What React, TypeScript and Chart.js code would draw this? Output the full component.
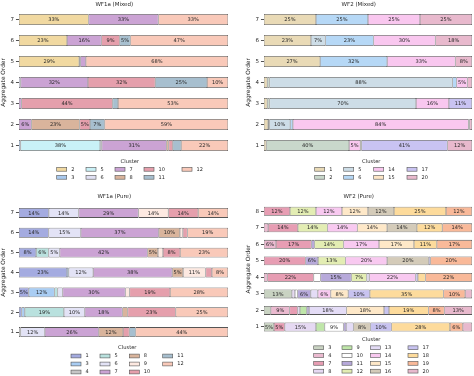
import React, { useEffect, useRef } from 'react';
import { Chart, registerables } from 'chart.js';

Chart.register(...registerables);

const FONT = "'DejaVu Sans', 'Liberation Sans', sans-serif";
const TEXT = '#262626';
const EDGE = '#555555';

// ---------------- data ----------------
// WF1a (Mixed)
const WF1A_MIXED_CLUSTERS = [2, 3, 5, 6, 7, 8, 10, 11, 12];
const WF1A_MIXED_ORDERS = ['1', '2', '3', '4', '5', '6', '7'];
const WF1A_MIXED_SHARES = [
  [0, 0.8, 38, 0.8, 31, 1, 2, 4, 22.4],
  [0, 0, 0, 0, 6, 23, 5, 7, 59],
  [0, 0, 0, 0, 1.2, 0, 43.6, 2.6, 52.6],
  [0, 0, 0, 0.8, 32.2, 0, 32.2, 24.8, 10],
  [28.8, 0, 0, 0.6, 2.6, 0, 0, 0, 68],
  [23, 0, 0, 0, 16.4, 0, 8.8, 5.1, 46.7],
  [33.33, 0, 0, 0, 33.33, 0, 0, 0, 33.34],
];
const WF1A_MIXED_COLORS = ['#f1d9a1', '#a9c9ee', '#c9f1f7', '#e1e1f4', '#cba3d4', '#d9b49c', '#e59fac', '#a7bfcf', '#f9c9b9'];

// WF2 (Mixed)
const WF2_MIXED_CLUSTERS = [1, 2, 5, 6, 14, 15, 17, 20];
const WF2_MIXED_ORDERS = ['1', '2', '3', '4', '5', '6', '7'];
const WF2_MIXED_SHARES = [
  [1.1, 39.8, 0, 0, 5.4, 0.6, 41.3, 11.8],
  [2, 0.6, 10, 1.3, 84.4, 0, 0.5, 1.2],
  [1.6, 1.1, 70.4, 0, 15.8, 0, 11.1, 0],
  [1.6, 1.1, 87.9, 2, 5.2, 0, 0, 2.2],
  [27, 0, 0, 32.2, 32.8, 0, 0, 8],
  [22.6, 0, 6.9, 23.2, 29.7, 0, 0, 17.6],
  [25, 0, 0, 25, 25, 0, 0, 25],
];
const WF2_MIXED_COLORS = ['#e9dab6', '#c9d8cb', '#cddde7', '#b6d8f6', '#f9c7ef', '#fde6c6', '#c9c3f2', '#e8b9cd'];

// WF1a (Pure)
const WF1A_PURE_CLUSTERS = [1, 3, 4, 5, 6, 7, 8, 9, 10, 11, 12];
const WF1A_PURE_ORDERS = ['1', '2', '3', '4', '5', '6', '7'];
const WF1A_PURE_SHARES = [
  [0, 0, 0.8, 0, 11.6, 25.8, 11.6, 0, 3, 3, 44.2],
  [1.3, 1.5, 0, 18.7, 10, 18, 2.5, 0, 23, 0, 25],
  [4.7, 12.3, 0, 1.5, 2.4, 30, 0, 2, 19.4, 0, 27.7],
  [23, 0.8, 0, 0, 11.7, 37.8, 5.2, 10.8, 3, 0, 7.7],
  [8.2, 0, 0, 6, 5.3, 42, 5, 2.4, 8.2, 0, 22.9],
  [14.2, 0, 0, 0, 15.4, 37.3, 10.1, 1.4, 2.2, 0, 19.4],
  [14.29, 0, 0, 0, 14.29, 28.57, 0, 14.29, 14.28, 0, 14.28],
];
const WF1A_PURE_COLORS = ['#a4abe0', '#a9cdf3', '#c6c6c6', '#b9e1de', '#e3e3f6', '#cba3d4', '#d9b49c', '#fde9e1', '#e59fac', '#a7bfcf', '#f9c9b9'];

// WF2 (Pure)
const WF2_PURE_CLUSTERS = [3, 4, 7, 8, 9, 10, 11, 12, 13, 14, 15, 16, 17, 18, 19, 20];
const WF2_PURE_ORDERS = ['1', '2', '3', '4', '5', '6', '7', '8'];
const WF2_PURE_SHARES = [
  [4.8, 0, 5.2, 15, 4.2, 9, 1.3, 0, 3.5, 0, 0, 8.2, 10.1, 28.1, 6.2, 4.4],
  [3.3, 9, 3.9, 1.1, 3.3, 0, 1.1, 0, 18, 0, 18, 0, 2.4, 19, 7.6, 13.3],
  [13.4, 0, 0, 1.5, 0, 1.2, 6.4, 0, 3.4, 6.2, 8.4, 0, 10.4, 35.4, 10.4, 3.3],
  [0, 1.6, 22.3, 0, 0, 3.3, 14.8, 7.4, 1.2, 22.3, 0, 0, 1.1, 3.6, 22.4, 0],
  [0, 0, 20, 0, 0, 0, 6, 13.2, 0, 20, 0, 20, 0.8, 0, 20, 0],
  [0, 5.8, 17, 0, 0, 0, 1.5, 14, 0, 17, 16.8, 0, 0, 11, 16.9, 0],
  [0, 2, 14.3, 0, 0, 0, 0, 14.3, 0, 14.3, 14.3, 14.3, 0, 12.2, 14.3, 0],
  [0, 0, 12.5, 0, 0, 0, 0, 12.5, 0, 12.5, 12.5, 12.5, 0, 25, 12.5, 0],
];
const WF2_PURE_COLORS = ['#c9d3c2', '#ebbad0', '#e79db3', '#e6d9f3', '#bfe6a9', '#ffffff', '#b7a9da', '#e3edb3', '#e4dcf6', '#f8c9f0', '#fee8c8', '#d4cbb9', '#c8c3f0', '#fddb9c', '#f9b999', '#e8b9cd'];

// ---------------- helpers ----------------
function pyRound(v: number): number {
  const f = Math.floor(v);
  const d = v - f;
  if (Math.abs(d - 0.5) < 1e-9) return f % 2 === 0 ? f : f + 1;
  return Math.round(v);
}

const segmentLabels = {
  id: 'segmentLabels',
  afterDatasetsDraw(chart: any) {
    const ctx = chart.ctx;
    ctx.save();
    ctx.font = `5.1px ${FONT}`;
    ctx.fillStyle = TEXT;
    ctx.textAlign = 'center';
    ctx.textBaseline = 'middle';
    chart.data.datasets.forEach((ds: any, di: number) => {
      const meta = chart.getDatasetMeta(di);
      meta.data.forEach((el: any, i: number) => {
        const v = ds.data[i];
        if (v == null || v < 4.5) return;
        const p = el.getProps(['x', 'y', 'base'], true);
        ctx.fillText(pyRound(v) + '%', (p.x + p.base) / 2, p.y + 0.3);
      });
    });
    ctx.restore();
  },
};

const clusterLegend = {
  id: 'clusterLegend',
  afterDraw(chart: any, _args: any, opts: any) {
    const { cols, ncol, titleDy, rowDy, rowStep } = opts;
    const ctx = chart.ctx;
    const ds = chart.data.datasets;
    const n = ds.length;
    const base = Math.floor(n / ncol);
    const large = n % ncol;
    const perCol: number[] = [];
    for (let c = 0; c < ncol; c++) perCol.push(c < large ? base + 1 : base);
    const bottom = chart.chartArea.bottom;
    ctx.save();
    ctx.font = `5px ${FONT}`;
    ctx.textBaseline = 'middle';
    let idx = 0;
    let rightEdge = cols[0];
    for (let c = 0; c < ncol; c++) {
      for (let r = 0; r < perCol[c]; r++) {
        const d = ds[idx++];
        if (!d) continue;
        const x = cols[c];
        const y = bottom + rowDy + r * rowStep;
        ctx.fillStyle = d.backgroundColor;
        ctx.fillRect(x, y - 1.9, 10, 3.8);
        ctx.strokeStyle = EDGE;
        ctx.lineWidth = 0.6;
        ctx.strokeRect(x, y - 1.9, 10, 3.8);
        ctx.fillStyle = TEXT;
        ctx.textAlign = 'left';
        ctx.fillText(d.label, x + 14.5, y + 0.2);
        const w = ctx.measureText(d.label).width;
        rightEdge = Math.max(rightEdge, x + 14.5 + w);
      }
    }
    ctx.textAlign = 'center';
    ctx.fillStyle = TEXT;
    ctx.font = `5.2px ${FONT}`;
    ctx.fillText('Cluster', (cols[0] + rightEdge) / 2, bottom + titleDy);
    ctx.restore();
  },
};

type PanelCfg = {
  title: string;
  clusters: number[];
  orders: string[];
  shares: number[][];
  colors: string[];
  x: number;
  y: number;
  w: number;
  h: number;
  pad: { left: number; right: number; top: number; bottom: number };
  titlePad: { top: number; bottom: number };
  barPct: number;
  legend: { cols: number[]; ncol: number; titleDy: number; rowDy: number; rowStep: number };
};

function Panel({ cfg }: { cfg: PanelCfg }) {
  const ref = useRef<HTMLCanvasElement | null>(null);
  useEffect(() => {
    if (!ref.current) return;
    const labels = [...cfg.orders].reverse();
    const datasets = cfg.clusters.map((cl, j) => ({
      label: String(cl),
      data: labels.map((o) => {
        const row = cfg.shares[cfg.orders.indexOf(o)];
        const v = row[j];
        return v > 0 ? v : null;
      }),
      backgroundColor: cfg.colors[j],
      borderColor: EDGE,
      borderWidth: { top: 0.8, bottom: 0.8, left: 0.55, right: 0.55 },
      borderSkipped: false,
      barPercentage: cfg.barPct,
      categoryPercentage: 1,
      stack: 's',
    }));
    const chart = new Chart(ref.current, {
      type: 'bar',
      data: { labels, datasets },
      options: {
        indexAxis: 'y',
        animation: false,
        responsive: false,
        devicePixelRatio: 1,
        layout: { padding: cfg.pad },
        scales: {
          x: { type: 'linear', stacked: true, min: 0, max: 100, display: false },
          y: {
            type: 'category',
            stacked: true,
            offset: true,
            border: { display: false },
            grid: {
              display: true,
              drawOnChartArea: false,
              drawTicks: true,
              tickLength: 3,
              tickWidth: 0.8,
              tickColor: TEXT,
              offset: false,
            },
            ticks: { font: { size: 5.5, family: FONT }, color: TEXT, padding: 2 },
            title: {
              display: true,
              text: 'Aggregate Order',
              font: { size: 5.8, family: FONT },
              color: TEXT,
              padding: { top: 0, bottom: 1 },
            },
          },
        },
        plugins: {
          legend: { display: false },
          tooltip: { enabled: false },
          title: {
            display: true,
            text: cfg.title,
            font: { size: 5.5, family: FONT, weight: 'normal' },
            color: TEXT,
            padding: cfg.titlePad,
          },
          clusterLegend: cfg.legend,
        } as any,
      } as any,
      plugins: [segmentLabels, clusterLegend],
    });
    return () => chart.destroy();
  }, [cfg]);
  return (
    <canvas
      ref={ref}
      width={cfg.w}
      height={cfg.h}
      style={{ position: 'absolute', left: cfg.x, top: cfg.y, width: cfg.w, height: cfg.h }}
    />
  );
}

const PANELS: PanelCfg[] = [
  {
    title: 'WF1a (Mixed)',
    clusters: WF1A_MIXED_CLUSTERS,
    orders: WF1A_MIXED_ORDERS,
    shares: WF1A_MIXED_SHARES,
    colors: WF1A_MIXED_COLORS,
    x: 0, y: 0, w: 237, h: 188,
    pad: { left: 0.5, right: 9, top: 0, bottom: 32 },
    titlePad: { top: 1.2, bottom: 1.2 },
    barPct: 0.52,
    legend: { cols: [56.7, 86, 115, 144, 182], ncol: 5, titleDy: 6, rowDy: 13.3, rowStep: 8 },
  },
  {
    title: 'WF2 (Mixed)',
    clusters: WF2_MIXED_CLUSTERS,
    orders: WF2_MIXED_ORDERS,
    shares: WF2_MIXED_SHARES,
    colors: WF2_MIXED_COLORS,
    x: 237, y: 0, w: 237, h: 188,
    pad: { left: 8.5, right: 2, top: 0, bottom: 32 },
    titlePad: { top: 1.2, bottom: 1.2 },
    barPct: 0.52,
    legend: { cols: [77.7, 106.7, 136.7, 170], ncol: 4, titleDy: 6, rowDy: 13.3, rowStep: 8 },
  },
  {
    title: 'WF1a (Pure)',
    clusters: WF1A_PURE_CLUSTERS,
    orders: WF1A_PURE_ORDERS,
    shares: WF1A_PURE_SHARES,
    colors: WF1A_PURE_COLORS,
    x: 0, y: 188, w: 237, h: 188,
    pad: { left: 0.5, right: 9, top: 0, bottom: 34 },
    titlePad: { top: 5.7, bottom: 2.7 },
    barPct: 0.5,
    legend: { cols: [71, 100, 129.3, 162.7], ncol: 4, titleDy: 6, rowDy: 14, rowStep: 8 },
  },
  {
    title: 'WF2 (Pure)',
    clusters: WF2_PURE_CLUSTERS,
    orders: WF2_PURE_ORDERS,
    shares: WF2_PURE_SHARES,
    colors: WF2_PURE_COLORS,
    x: 237, y: 188, w: 237, h: 188,
    pad: { left: 8.5, right: 2, top: 0, bottom: 40.75 },
    titlePad: { top: 5.7, bottom: 2.7 },
    barPct: 0.54,
    legend: { cols: [76.7, 105, 133.3, 171], ncol: 4, titleDy: 4, rowDy: 12.5, rowStep: 7.8 },
  },
];

export default function App() {
  return (
    <div
      style={{
        position: 'fixed',
        left: 0,
        top: 0,
        width: 474,
        height: 376,
        background: '#ffffff',
        overflow: 'hidden',
      }}
    >
      {PANELS.map((p) => (
        <Panel key={p.title} cfg={p} />
      ))}
    </div>
  );
}
